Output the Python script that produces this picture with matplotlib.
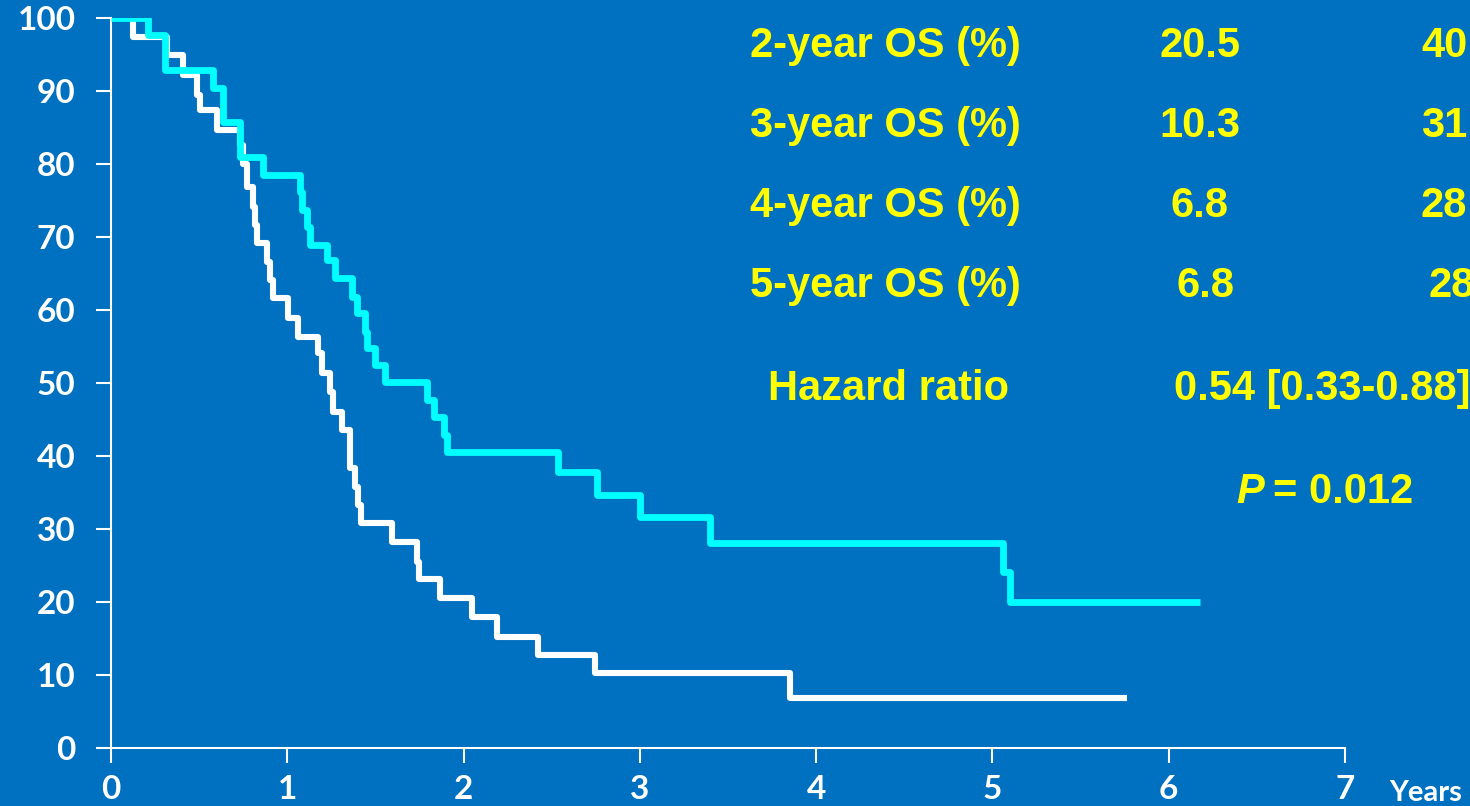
#!/usr/bin/env python3
"""
Kaplan-Meier overall survival curves (two arms) with OS summary table.
Output: out.png
"""
import matplotlib
matplotlib.use("Agg")
import matplotlib.pyplot as plt

# ---- data ----
# white arm: step times (years) and survival (%)
white_t = [0, 0.125, 0.318, 0.408, 0.488, 0.505, 0.601, 0.732, 0.749, 0.771,
           0.805, 0.817, 0.828, 0.885, 0.902, 0.919, 1.004, 1.061, 1.174, 1.197,
           1.242, 1.259, 1.310, 1.356, 1.384, 1.401, 1.418, 1.594, 1.736, 1.747,
           1.866, 2.048, 2.189, 2.422, 2.745, 3.851, 5.763]
white_s = [100, 97.4, 94.9, 92.2, 89.5, 87.4, 84.7, 82.6, 80.0, 76.8,
           74.1, 71.6, 69.2, 66.6, 64.1, 61.6, 58.9, 56.3, 54.1, 51.4,
           48.8, 46.0, 43.6, 38.4, 35.8, 33.3, 30.8, 28.2, 25.5, 23.2,
           20.5, 17.9, 15.2, 12.7, 10.3, 6.8, 6.8]

# cyan arm
cyan_t = [0, 0.21, 0.306, 0.58, 0.635, 0.73, 0.862, 1.072, 1.083, 1.112,
          1.129, 1.225, 1.271, 1.367, 1.395, 1.441, 1.452, 1.497, 1.554, 1.795,
          1.83, 1.89, 1.906, 2.535, 2.757, 3.0, 3.398, 5.06, 5.10, 6.18]
cyan_s = [100, 97.7, 92.9, 90.4, 85.8, 81.0, 78.5, 76.1, 73.7, 71.4,
          68.9, 66.8, 64.4, 61.8, 59.6, 57.0, 54.8, 52.5, 50.1, 47.7,
          45.3, 42.9, 40.5, 37.8, 34.7, 31.6, 28.1, 24.1, 20.0, 20.0]

x_ticks = [0, 1, 2, 3, 4, 5, 6, 7]
y_ticks = [0, 10, 20, 30, 40, 50, 60, 70, 80, 90, 100]

row_labels = ["2-year OS (%)", "3-year OS (%)", "4-year OS (%)", "5-year OS (%)"]
col1_vals = ["20.5", "10.3", "6.8", "6.8"]
col2_vals = ["40", "31", "28", "28"]
hr_label = "Hazard ratio"
hr_value = "0.54 [0.33-0.88]"
p_value = "= 0.012"

BG = "#0070C0"
YELLOW = "#FFFF00"
CYAN = "#00FFFF"
TXT_FAMILY = ["Liberation Sans", "DejaVu Sans"]
TICK_FAMILY = ["Lato", "DejaVu Sans"]
W, H = 1470, 806


def fx(px):
    return px / W


def fy(py):
    return 1 - py / H


def main():
    fig = plt.figure(figsize=(14.7, 8.06), dpi=100, facecolor=BG)
    ax = fig.add_axes([fx(111), fy(748), (1345 - 111) / W, (748 - 18) / H])
    ax.set_facecolor(BG)

    ax.plot(white_t, white_s, drawstyle="steps-post", color="white", lw=4.4,
            solid_joinstyle="round", solid_capstyle="butt", zorder=3)
    ax.plot(cyan_t, cyan_s, drawstyle="steps-post", color=CYAN, lw=4.9,
            solid_joinstyle="round", solid_capstyle="butt", zorder=4)

    ax.set_xlim(0, 7)
    ax.set_ylim(0, 100)
    for side in ("top", "right"):
        ax.spines[side].set_visible(False)
    for side in ("left", "bottom"):
        ax.spines[side].set_color("white")
        ax.spines[side].set_linewidth(1.5)
    ax.set_xticks(x_ticks)
    ax.set_yticks(y_ticks)
    ax.tick_params(axis="both", colors="white", width=1.5, length=10.5)
    ax.tick_params(axis="y", pad=15)
    ax.tick_params(axis="x", pad=9)
    for lab in ax.get_xticklabels() + ax.get_yticklabels():
        lab.set_fontfamily(TICK_FAMILY)
        lab.set_fontweight("bold")
        lab.set_fontsize(24)
        lab.set_color("white")

    fig.text(fx(1389), fy(793), "Years", color="white", fontsize=21,
             fontweight="bold", family=TICK_FAMILY, ha="left", va="center")

    # summary table, right column partly cut off at the edge like the slide
    tkw = dict(color=YELLOW, fontsize=30, fontweight="bold", family=TXT_FAMILY,
               va="baseline")
    baselines = [57, 137, 217, 297]
    col1_x = [1200, 1200, 1199, 1205]
    col2_x = [1421, 1421, 1421, 1428]
    for i, lab in enumerate(row_labels):
        yb = fy(baselines[i])
        fig.text(fx(750), yb, lab, ha="left", **tkw)
        fig.text(fx(col1_x[i]), yb, col1_vals[i], ha="center", **tkw)
        fig.text(fx(col2_x[i]), yb, col2_vals[i], ha="left", **tkw)
    fig.text(fx(768), fy(400), hr_label, ha="left", **tkw)
    fig.text(fx(1174), fy(400), hr_value, ha="left", **tkw)
    fig.text(fx(1236), fy(503), "P", ha="left", style="italic", **tkw)
    fig.text(fx(1273), fy(503), p_value, ha="left", **tkw)

    fig.savefig("out.png", dpi=100, facecolor=BG)
    plt.close(fig)


if __name__ == "__main__":
    main()
